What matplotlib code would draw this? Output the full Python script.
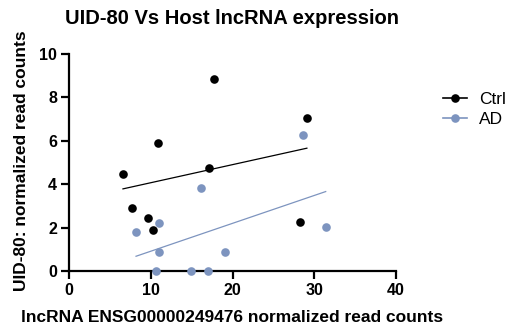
import numpy as np
import matplotlib
matplotlib.use("Agg")
import matplotlib.pyplot as plt

plt.rcParams['font.family'] = ['Liberation Sans', 'DejaVu Sans']

ctrl_x = [6.6, 7.7, 9.7, 10.3, 10.9, 17.1, 17.7, 28.3, 29.1]
ctrl_y = [4.47, 2.92, 2.43, 1.89, 5.90, 4.75, 8.86, 2.27, 7.07]
ad_x = [8.2, 11.0, 11.0, 10.7, 14.9, 17.0, 16.2, 19.1, 28.6, 31.4]
ad_y = [1.81, 2.20, 0.89, 0.0, 0.0, 0.0, 3.82, 0.86, 6.25, 2.03]
x_ticks = [0, 10, 20, 30, 40]
y_ticks = [0, 2, 4, 6, 8, 10]

ctrl_color = 'black'
ad_color = '#7d94bf'

W, H = 511, 333
fig = plt.figure(figsize=(W / 100, H / 100), dpi=100)
ax = fig.add_axes([69 / W, 1 - 271 / H, 327 / W, 217 / H])

for xs, ys, c, lab in [(ctrl_x, ctrl_y, ctrl_color, 'Ctrl'), (ad_x, ad_y, ad_color, 'AD')]:
    xs = np.array(xs); ys = np.array(ys)
    m, b = np.polyfit(xs, ys, 1)
    xx = np.array([xs.min(), xs.max()])
    ax.plot(xx, m * xx + b, color=c, lw=0.9, zorder=2)
    ax.plot(xs, ys, 'o', color=c, ms=6.2, mec='none', clip_on=False, zorder=3)
    ax.plot([], [], '-o', color=c, ms=6.2, mec='none', lw=1.2, label=lab)

ax.set_xlim(0, 40)
ax.set_ylim(0, 10)
ax.set_xticks(x_ticks)
ax.set_yticks(y_ticks)
for s in ['top', 'right']:
    ax.spines[s].set_visible(False)
for s in ['left', 'bottom']:
    ax.spines[s].set_linewidth(1.6)
ax.tick_params(width=1.6, length=6, labelsize=11.5, pad=2.5)
for t in ax.get_xticklabels() + ax.get_yticklabels():
    t.set_fontweight('bold')

fig.text(232.5 / W, 1 - 318 / H, 'lncRNA ENSG00000249476 normalized read counts',
         fontsize=12.5, fontweight='bold', ha='center', va='center')
fig.text(21.5 / W, 1 - 160.5 / H, 'UID-80: normalized read counts',
         fontsize=12.5, fontweight='bold', ha='center', va='center', rotation=90)
fig.text(232 / W, 1 - 19 / H, 'UID-80 Vs Host lncRNA expression',
         fontsize=14.5, fontweight='bold', ha='center', va='center')

fig.legend(loc='upper left', bbox_to_anchor=(443 / W, 1 - 92 / H), frameon=False, fontsize=12.5,
           handlelength=1.4, handletextpad=0.7, labelspacing=0.25, borderaxespad=0, borderpad=0)

fig.savefig('out.png', dpi=100)
